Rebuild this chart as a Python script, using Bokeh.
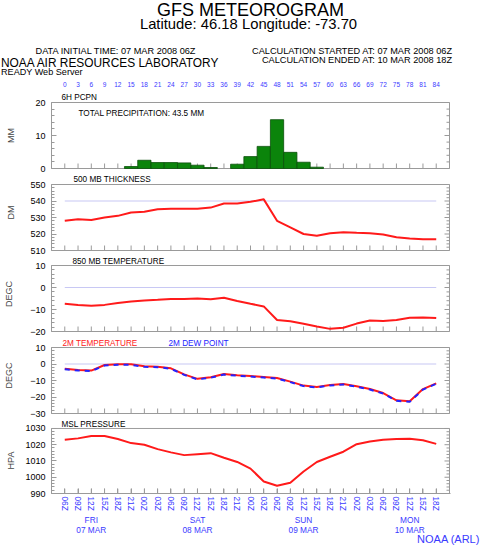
import numpy as np
from bokeh.plotting import figure
from bokeh.layouts import column
from bokeh.models import Range1d, LinearAxis, FixedTicker, SingleIntervalTicker, Title
from bokeh.core.properties import value
from bokeh.embed import file_html
from bokeh.resources import INLINE

# ---------------- data ----------------
hours = list(range(0, 85, 3))
time_labels = ["06Z", "09Z", "12Z", "15Z", "18Z", "21Z", "00Z", "03Z", "06Z", "09Z",
               "12Z", "15Z", "18Z", "21Z", "00Z", "03Z", "06Z", "09Z", "12Z", "15Z",
               "18Z", "21Z", "00Z", "03Z", "06Z", "09Z", "12Z", "15Z", "18Z"]
day_hours = [6, 30, 54, 78]
day_names = ["FRI", "SAT", "SUN", "MON"]
day_dates = ["07 MAR", "08 MAR", "09 MAR", "10 MAR"]

precip = [0, 0, 0, 0, 0, 0.6, 2.5, 1.8, 1.8, 1.7, 1.0, 0.3, 0, 1.3, 3.6,
          6.7, 14.8, 4.9, 1.9, 0.4, 0, 0, 0, 0, 0, 0, 0, 0, 0]
thickness = [528, 529, 528.5, 530, 531, 533, 533.5, 535, 535.3, 535.3, 535.3, 536,
             538.5, 538.5, 539.5, 541, 528, 524, 520, 519, 520.5, 521, 520.7, 520.5,
             519.7, 518, 517.3, 516.8, 516.8]
t850 = [-7.4, -7.9, -8.3, -7.9, -7.0, -6.4, -5.9, -5.6, -5.2, -5.2, -5.0, -5.3, -4.7,
        -6.1, -7.4, -8.6, -14.8, -15.3, -16.5, -17.7, -18.8, -18.3, -16.4, -15.0,
        -15.2, -14.8, -13.8, -13.6, -13.9]
t2m = [-2.9, -3.6, -4.0, -0.6, -0.1, -0.2, -1.4, -1.6, -2.6, -6.3, -9.0, -8.0, -6.1,
       -6.8, -7.3, -7.9, -8.5, -10.7, -13.1, -13.9, -12.7, -12.1, -13.5, -15.2, -17.6,
       -22.0, -22.6, -15.2, -11.7]
td2m = [-3.2, -3.9, -4.3, -0.9, -0.4, -0.5, -1.7, -1.9, -2.9, -6.6, -9.3, -8.3, -6.4,
        -7.1, -7.6, -8.2, -8.8, -11.0, -13.4, -14.2, -13.0, -12.4, -13.8, -15.5, -17.9,
        -22.3, -22.9, -15.5, -12.0]
mslp = [1023.1, 1023.9, 1025.3, 1025.3, 1023.5, 1021.0, 1020.0, 1017.3, 1015.3, 1013.6,
        1014.2, 1014.8, 1012.0, 1009.4, 1005.3, 997.4, 994.8, 996.6, 1003.5, 1009.4,
        1012.6, 1015.7, 1020.3, 1022.0, 1023.1, 1023.5, 1023.7, 1022.7, 1020.5]
total_precip_text = "TOTAL PRECIPITATION:  43.5 MM"
thickness_ref = 540
zero_ref = 0

title_text = "GFS METEOROGRAM"
subtitle_text = "Latitude: 46.18 Longitude: -73.70"
init_text = "DATA INITIAL TIME: 07 MAR 2008 06Z"
start_text = "CALCULATION STARTED AT: 07 MAR 2008 06Z"
end_text = "CALCULATION ENDED AT: 10 MAR 2008 18Z"
lab_text = "NOAA AIR RESOURCES LABORATORY"
server_text = "READY Web Server"
credit_text = "NOAA (ARL)"

# ---------------- style / geometry ----------------
FONT = "Liberation Sans"
BLUE = "#3a3aff"
GRAY = "#9a9a9a"
RED = "#ff1a1a"
DEWC = "#2323ff"
REFC = "#c8c8f4"
W = 480
BL = 51                               # frame left edge (px)
XR = (-3, 87)                         # hours inside every panel box
PPX = 398 / (XR[1] - XR[0])           # px per hour
XF = (XR[0], XR[1] + 1 / PPX)         # frame x range (1px beyond the box)
BR = W - BL - int(round((XF[1] - XF[0]) * PPX))
XE = (XR[0] - BL / PPX, XR[0] + (W - BL) / PPX)   # full-width strips, same scale


def px(page_x):
    """page pixel -> hour coordinate on the shared x scale"""
    return (page_x - BL) / PPX + XR[0]


def strip(height):
    s = figure(width=W, height=height, x_range=Range1d(*XE), y_range=Range1d(height, 0),
               output_backend="svg", toolbar_location=None,
               x_axis_type=None, y_axis_type=None, min_border=0,
               min_border_left=0, min_border_right=0, min_border_top=0,
               min_border_bottom=0)
    s.outline_line_color = None
    s.frame_align = False
    return s


def txt(s, x, y, t, size, color="black", align="left"):
    s.text(x=x, y=y, text=t, text_font=value(FONT), text_font_size=value(size),
           text_color=color, text_align=align, text_baseline="middle")


def panel(fig_top, frame_top, data_top, data_bot, fig_bot, yr, ylabel, lab_standoff,
          ext_bottom=True):
    ppy = (data_bot - data_top) / (yr[1] - yr[0])
    y_hi = yr[1] + (data_top - frame_top) / ppy
    if ext_bottom:
        y_lo = yr[0] - 1 / ppy
        bottom = fig_bot - data_bot - 1
    else:
        y_lo = yr[0]
        bottom = fig_bot - data_bot
    p = figure(width=W, height=fig_bot - fig_top, x_range=Range1d(*XF),
               y_range=Range1d(y_lo, y_hi),
               output_backend="svg", toolbar_location=None,
               x_axis_type=None, y_axis_type=None,
               min_border_left=BL, min_border_right=BR,
               min_border_top=frame_top - fig_top, min_border_bottom=bottom)
    p.outline_line_color = None
    ticker = SingleIntervalTicker(interval=10, num_minor_ticks=5)
    ly = LinearAxis(ticker=ticker, axis_label=ylabel, bounds=yr,
                    axis_line_color=GRAY, major_tick_line_color=GRAY,
                    minor_tick_line_color=GRAY,
                    major_tick_in=5, major_tick_out=0, minor_tick_in=3, minor_tick_out=0,
                    major_label_standoff=6, major_label_text_font=FONT,
                    major_label_text_font_size="9px", major_label_text_color="black",
                    axis_label_text_font=FONT, axis_label_text_font_size="9px",
                    axis_label_text_font_style="normal",
                    axis_label_standoff=lab_standoff)
    p.add_layout(ly, "left")
    # the panel box
    p.quad(left=XR[0], right=XR[1], bottom=yr[0], top=yr[1], fill_color=None,
           line_color=GRAY, line_width=1)
    # inward ticks on the right edge (every 2 units, longer every 10)
    ys = np.arange(yr[0], yr[1] + 0.001, 2)
    lens = np.where(np.isclose(ys % 10, 0), 5, 3) / PPX
    p.segment(x0=[XR[1]] * len(ys), x1=XR[1] - lens, y0=ys, y1=ys,
              line_color=GRAY, line_width=1)
    # inward ticks along the bottom, one per forecast step
    p.segment(x0=hours, x1=hours, y0=[yr[0]] * len(hours),
              y1=[yr[0] + 5 / ppy] * len(hours), line_color=GRAY, line_width=1)
    return p, ppy


def ptxt(p, x, y, t, size="8.2px", color="black", align="left"):
    p.text(x=x, y=y, text=t, text_font=value(FONT), text_font_size=value(size),
           text_color=color, text_align=align, text_baseline="middle")


def panel_title(p, text, page_x, standoff):
    p.add_layout(Title(text=text, align="left", offset=page_x - BL, standoff=standoff,
                       text_font=FONT, text_font_size="8.2px", text_font_style="normal",
                       text_color="black"), "above")


# ---------------- header strip (page y 0..78) ----------------
s0 = strip(78)
txt(s0, [px(250)], [9.5], [title_text], "18px", align="center")
txt(s0, [px(248)], [23], [subtitle_text], "14.8px", align="center")
txt(s0, [px(35)], [50], [init_text], "9.2px")
txt(s0, [px(452), px(452)], [50, 59.5], [start_text, end_text], "9.2px", align="right")
txt(s0, [px(0.5)], [62], [lab_text], "11.9px")
txt(s0, [px(0.5)], [71.5], [server_text], "9.1px")

# ---------------- panel 1: precipitation (page 78..173, box 102..168) ----------------
yr1 = (0, 20)
p1, ppy1 = panel(78, 101, 102, 168, 173, yr1, "MM", 16)
panel_title(p1, "6H PCPN", 61, 0)
top_axis = LinearAxis(ticker=FixedTicker(ticks=hours), axis_line_color=None,
                      major_tick_in=0, major_tick_out=0, major_label_standoff=4,
                      major_label_text_color=BLUE, major_label_text_font=FONT,
                      major_label_text_font_size="6.5px")
p1.add_layout(top_axis, "above")
ph = [h for h, v in zip(hours, precip) if v > 0]
pv = [v for v in precip if v > 0]
p1.vbar(x=ph, top=pv, bottom=0, width=3, fill_color="#0b840b", line_color="#0a4f0a",
        line_width=0.8)
ptxt(p1, [px(78)], [yr1[1] - 10.5 / ppy1], [total_precip_text])

# ---------------- panel 2: thickness (page 173..255, box 184..250) ----------------
yr2 = (510, 550)
p2, ppy2 = panel(173, 173, 184, 250, 255, yr2, "DM", 11)
p2.line(x=[hours[0], hours[-1]], y=[thickness_ref, thickness_ref], line_color=REFC,
        line_width=1.2)
p2.line(x=hours, y=thickness, line_color=RED, line_width=2)
ptxt(p2, [px(73)], [yr2[1] + 4.8 / ppy2], ["500 MB  THICKNESS"])

# ---------------- panel 3: 850 temp (page 255..336, box 265..331) ----------------
yr3 = (-20, 10)
p3, ppy3 = panel(255, 255, 265, 331, 336, yr3, "DEGC", 13)
p3.line(x=[hours[0], hours[-1]], y=[zero_ref, zero_ref], line_color=REFC, line_width=1.2)
p3.line(x=hours, y=t850, line_color=RED, line_width=2)
ptxt(p3, [px(72)], [yr3[1] + 4.5 / ppy3], ["850 MB  TEMPERATURE"])

# ---------------- panel 4: 2m temp / dew point (page 336..418, box 347..413) -------
yr4 = (-30, 10)
p4, ppy4 = panel(336, 336, 347, 413, 418, yr4, "DEGC", 13)
p4.line(x=[hours[0], hours[-1]], y=[zero_ref, zero_ref], line_color=REFC, line_width=1.2)
p4.line(x=hours, y=t2m, line_color=RED, line_width=2)
p4.line(x=hours, y=td2m, line_color=DEWC, line_width=2, line_dash="5 5")
ptxt(p4, [px(62)], [yr4[1] + 4.2 / ppy4], ["2M TEMPERATURE"], color="#ff2020")
ptxt(p4, [px(168)], [yr4[1] + 4.2 / ppy4], ["2M   DEW POINT"], color=DEWC)

# ---------------- panel 5: MSL pressure (page 418..513, box 427..495) ------------
yr5 = (990, 1030)
p5, ppy5 = panel(418, 426, 427, 495, 513, yr5, "HPA", 6, ext_bottom=False)
panel_title(p5, "MSL PRESSURE", 61, -2)
bx = LinearAxis(ticker=FixedTicker(ticks=hours), axis_line_color=GRAY,
                major_tick_line_color=GRAY, major_tick_in=5, major_tick_out=0,
                major_label_overrides={h: s for h, s in zip(hours, time_labels)},
                major_label_orientation="vertical", major_label_text_color=BLUE,
                major_label_text_font=FONT, major_label_text_font_size="8.3px",
                major_label_standoff=3)
p5.add_layout(bx, "below")
p5.line(x=hours, y=mslp, line_color=RED, line_width=2)

# ---------------- footer strip (page y 513..545) ----------------
s5 = strip(32)
txt(s5, day_hours, [6.5] * 4, day_names, "8.3px", color=BLUE, align="center")
txt(s5, day_hours, [16.5] * 4, day_dates, "8.3px", color=BLUE, align="center")
txt(s5, [px(479.5)], [25], [credit_text], "11px", color=BLUE, align="right")

layout = column(s0, p1, p2, p3, p4, p5, s5, spacing=0)
open("out.html", "w").write(file_html(layout, INLINE))
